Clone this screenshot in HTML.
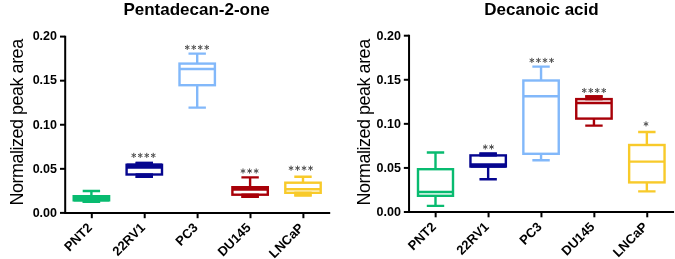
<!DOCTYPE html>
<html><head><meta charset="utf-8"><style>
html,body{margin:0;padding:0;background:#fff;overflow:hidden;}
svg{display:block;filter:blur(0.3px);}
text{font-family:"Liberation Sans",sans-serif;fill:#000;}
.t{font-weight:bold;font-size:17px;}
.yl{font-size:18px;letter-spacing:-0.5px;}
.tk{font-weight:bold;font-size:12.5px;}
.xl{font-weight:bold;font-size:13px;}
</style></head><body>
<svg width="675" height="259" viewBox="0 0 675 259">
<text x="196.6" y="14.8" text-anchor="middle" class="t">Pentadecan-2-one</text>
<text transform="translate(22.6,122.4) rotate(-90)" text-anchor="middle" class="yl">Normalized peak area</text>
<path d="M65.2 35.70V212.90H330.2" fill="none" stroke="#000" stroke-width="2.0"/>
<path d="M60 36.6H65.2" stroke="#000" stroke-width="2.0"/>
<text x="57" y="40.40" text-anchor="end" class="tk">0.20</text>
<path d="M60 80.68H65.2" stroke="#000" stroke-width="2.0"/>
<text x="57" y="84.48" text-anchor="end" class="tk">0.15</text>
<path d="M60 124.75H65.2" stroke="#000" stroke-width="2.0"/>
<text x="57" y="128.55" text-anchor="end" class="tk">0.10</text>
<path d="M60 168.83H65.2" stroke="#000" stroke-width="2.0"/>
<text x="57" y="172.63" text-anchor="end" class="tk">0.05</text>
<path d="M60 212.9H65.2" stroke="#000" stroke-width="2.0"/>
<text x="57" y="216.70" text-anchor="end" class="tk">0.00</text>
<path d="M91.80 212.90V218.20" stroke="#000" stroke-width="2.0"/>
<text transform="translate(92.90,228.50) rotate(-45)" text-anchor="end" class="xl">PNT2</text>
<g stroke="#08bb70" stroke-width="2.4" fill="none">
<path d="M82.70 191H100.10M91.4 191V196.2M82.70 201.8H100.10M91.4 201.8V200.3M73.70 198.3H109.10"/>
<rect x="73.70" y="196.2" width="35.40" height="4.10"/>
<path d="M73.70 197.25H109.10" stroke-width="4.50"/>
<path d="M73.70 199.30H109.10" stroke-width="4.40"/>
<path d="M82.70 201.05H100.10" stroke-width="3.90"/>
</g>
<path d="M144.70 212.90V218.20" stroke="#000" stroke-width="2.0"/>
<text transform="translate(145.80,228.50) rotate(-45)" text-anchor="end" class="xl">22RV1</text>
<g stroke="#06068f" stroke-width="2.4" fill="none">
<path d="M135.60 163.05H153.00M144.3 163.05V164.8M135.60 176.8H153.00M144.3 176.8V174.5M126.60 167.2H162.00"/>
<rect x="126.60" y="164.8" width="35.40" height="9.70"/>
<path d="M126.60 166.00H162.00" stroke-width="4.80"/>
<path d="M135.60 163.93H153.00" stroke-width="4.15"/>
<path d="M135.60 175.65H153.00" stroke-width="4.70"/>
</g>
<path d="M197.60 212.90V218.20" stroke="#000" stroke-width="2.0"/>
<text transform="translate(198.70,228.50) rotate(-45)" text-anchor="end" class="xl">PC3</text>
<g stroke="#82b8fa" stroke-width="2.4" fill="none">
<path d="M188.50 53.6H205.90M197.2 53.6V63.6M188.50 107.6H205.90M197.2 107.6V85.2M179.50 69H214.90"/>
<rect x="179.50" y="63.6" width="35.40" height="21.60"/>
</g>
<path d="M250.50 212.90V218.20" stroke="#000" stroke-width="2.0"/>
<text transform="translate(251.60,228.50) rotate(-45)" text-anchor="end" class="xl">DU145</text>
<g stroke="#a80008" stroke-width="2.4" fill="none">
<path d="M241.40 177.4H258.80M250.1 177.4V187.2M241.40 196.7H258.80M250.1 196.7V194.7M232.40 189.4H267.80"/>
<rect x="232.40" y="187.2" width="35.40" height="7.50"/>
<path d="M232.40 188.30H267.80" stroke-width="4.60"/>
<path d="M241.40 195.70H258.80" stroke-width="4.40"/>
</g>
<path d="M303.40 212.90V218.20" stroke="#000" stroke-width="2.0"/>
<text transform="translate(304.50,228.50) rotate(-45)" text-anchor="end" class="xl">LNCaP</text>
<g stroke="#f8ca2a" stroke-width="2.4" fill="none">
<path d="M294.30 176.8H311.70M303.0 176.8V182.7M294.30 195.35H311.70M303.0 195.35V192.8M285.30 189.3H320.70"/>
<rect x="285.30" y="182.7" width="35.40" height="10.10"/>
<path d="M294.30 194.07H311.70" stroke-width="4.95"/>
</g>
<path d="M133.75 152.85V157.95M131.50 154.20L136.00 156.60M131.50 156.60L136.00 154.20M140.25 152.85V157.95M138.00 154.20L142.50 156.60M138.00 156.60L142.50 154.20M146.75 152.85V157.95M144.50 154.20L149.00 156.60M144.50 156.60L149.00 154.20M153.25 152.85V157.95M151.00 154.20L155.50 156.60M151.00 156.60L155.50 154.20M187.25 44.85V49.95M185.00 46.20L189.50 48.60M185.00 48.60L189.50 46.20M193.75 44.85V49.95M191.50 46.20L196.00 48.60M191.50 48.60L196.00 46.20M200.25 44.85V49.95M198.00 46.20L202.50 48.60M198.00 48.60L202.50 46.20M206.75 44.85V49.95M204.50 46.20L209.00 48.60M204.50 48.60L209.00 46.20M243.00 168.45V173.55M240.75 169.80L245.25 172.20M240.75 172.20L245.25 169.80M249.60 168.45V173.55M247.35 169.80L251.85 172.20M247.35 172.20L251.85 169.80M256.20 168.45V173.55M253.95 169.80L258.45 172.20M253.95 172.20L258.45 169.80M291.05 165.65V170.75M288.80 167.00L293.30 169.40M288.80 169.40L293.30 167.00M297.55 165.65V170.75M295.30 167.00L299.80 169.40M295.30 169.40L299.80 167.00M304.05 165.65V170.75M301.80 167.00L306.30 169.40M301.80 169.40L306.30 167.00M310.55 165.65V170.75M308.30 167.00L312.80 169.40M308.30 169.40L312.80 167.00" stroke="#505050" stroke-width="1.0" fill="none"/>
<text x="541.5" y="14.8" text-anchor="middle" class="t">Decanoic acid</text>
<text transform="translate(370.1,122.4) rotate(-90)" text-anchor="middle" class="yl">Normalized peak area</text>
<path d="M409.05 34.80V212.00H674.05" fill="none" stroke="#000" stroke-width="2.0"/>
<path d="M403.85 35.7H409.05" stroke="#000" stroke-width="2.0"/>
<text x="400.85" y="39.50" text-anchor="end" class="tk">0.20</text>
<path d="M403.85 79.78H409.05" stroke="#000" stroke-width="2.0"/>
<text x="400.85" y="83.58" text-anchor="end" class="tk">0.15</text>
<path d="M403.85 123.85H409.05" stroke="#000" stroke-width="2.0"/>
<text x="400.85" y="127.65" text-anchor="end" class="tk">0.10</text>
<path d="M403.85 167.93H409.05" stroke="#000" stroke-width="2.0"/>
<text x="400.85" y="171.73" text-anchor="end" class="tk">0.05</text>
<path d="M403.85 212.0H409.05" stroke="#000" stroke-width="2.0"/>
<text x="400.85" y="215.80" text-anchor="end" class="tk">0.00</text>
<path d="M435.65 212.00V217.30" stroke="#000" stroke-width="2.0"/>
<text transform="translate(436.75,227.60) rotate(-45)" text-anchor="end" class="xl">PNT2</text>
<g stroke="#08bb70" stroke-width="2.4" fill="none">
<path d="M426.80 152.5H444.20M435.5 152.5V169.2M426.80 205.9H444.20M435.5 205.9V195.8M418.00 192H453.00"/>
<rect x="418.00" y="169.2" width="35.00" height="26.60"/>
</g>
<path d="M488.55 212.00V217.30" stroke="#000" stroke-width="2.0"/>
<text transform="translate(489.65,227.60) rotate(-45)" text-anchor="end" class="xl">22RV1</text>
<g stroke="#06068f" stroke-width="2.4" fill="none">
<path d="M479.45 153.6H496.85M488.15 153.6V155.4M479.45 179.2H496.85M488.15 179.2V166.5M470.45 164.6H505.85"/>
<rect x="470.45" y="155.4" width="35.40" height="11.10"/>
<path d="M470.45 165.55H505.85" stroke-width="4.30"/>
<path d="M479.45 154.50H496.85" stroke-width="4.20"/>
</g>
<path d="M541.45 212.00V217.30" stroke="#000" stroke-width="2.0"/>
<text transform="translate(542.55,227.60) rotate(-45)" text-anchor="end" class="xl">PC3</text>
<g stroke="#82b8fa" stroke-width="2.4" fill="none">
<path d="M532.35 66.6H549.75M541.05 66.6V80.5M532.35 160.3H549.75M541.05 160.3V153.8M523.35 96.3H558.75"/>
<rect x="523.35" y="80.5" width="35.40" height="73.30"/>
</g>
<path d="M594.35 212.00V217.30" stroke="#000" stroke-width="2.0"/>
<text transform="translate(595.45,227.60) rotate(-45)" text-anchor="end" class="xl">DU145</text>
<g stroke="#a80008" stroke-width="2.4" fill="none">
<path d="M585.25 96.4H602.65M593.95 96.4V99.1M585.25 125.6H602.65M593.95 125.6V118.6M576.25 103H611.65"/>
<rect x="576.25" y="99.1" width="35.40" height="19.50"/>
<path d="M585.25 97.75H602.65" stroke-width="5.10"/>
</g>
<path d="M647.25 212.00V217.30" stroke="#000" stroke-width="2.0"/>
<text transform="translate(648.35,227.60) rotate(-45)" text-anchor="end" class="xl">LNCaP</text>
<g stroke="#f8ca2a" stroke-width="2.4" fill="none">
<path d="M638.15 132H655.55M646.85 132V145M638.15 191.4H655.55M646.85 191.4V182.4M629.15 161.6H664.55"/>
<rect x="629.15" y="145" width="35.40" height="37.40"/>
</g>
<path d="M485.25 144.45V149.55M483.00 145.80L487.50 148.20M483.00 148.20L487.50 145.80M491.55 144.45V149.55M489.30 145.80L493.80 148.20M489.30 148.20L493.80 145.80M531.85 57.85V62.95M529.60 59.20L534.10 61.60M529.60 61.60L534.10 59.20M538.42 57.85V62.95M536.17 59.20L540.67 61.60M536.17 61.60L540.67 59.20M544.99 57.85V62.95M542.74 59.20L547.24 61.60M542.74 61.60L547.24 59.20M551.56 57.85V62.95M549.31 59.20L553.81 61.60M549.31 61.60L553.81 59.20M584.25 87.95V93.05M582.00 89.30L586.50 91.70M582.00 91.70L586.50 89.30M590.75 87.95V93.05M588.50 89.30L593.00 91.70M588.50 91.70L593.00 89.30M597.25 87.95V93.05M595.00 89.30L599.50 91.70M595.00 91.70L599.50 89.30M603.75 87.95V93.05M601.50 89.30L606.00 91.70M601.50 91.70L606.00 89.30M646.00 121.35V126.45M643.75 122.70L648.25 125.10M643.75 125.10L648.25 122.70" stroke="#505050" stroke-width="1.0" fill="none"/>
</svg>
</body></html>
